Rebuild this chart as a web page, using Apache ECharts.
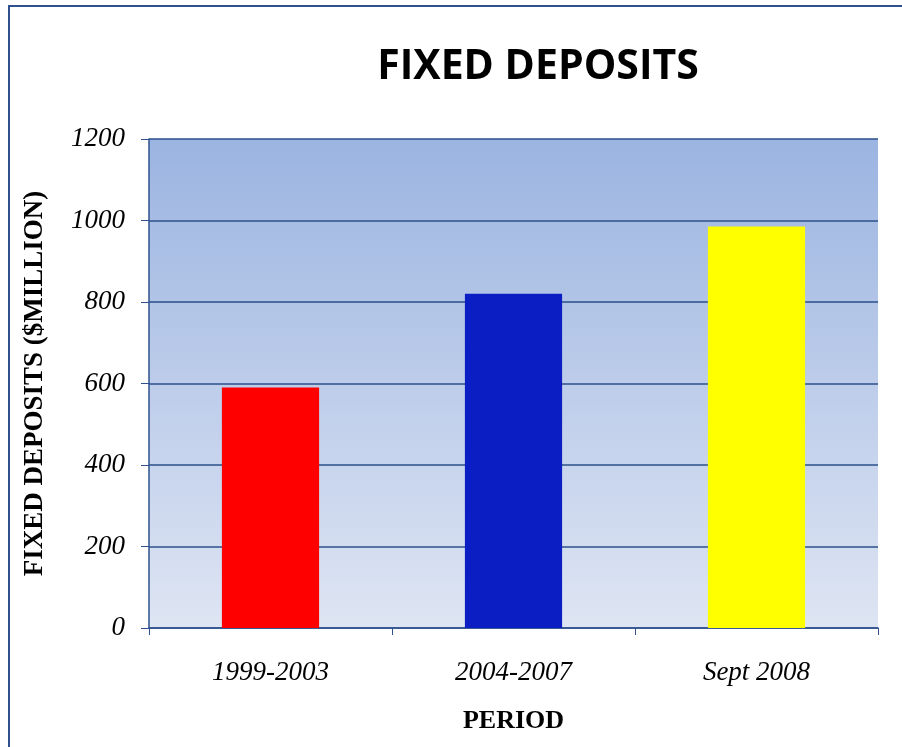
<!DOCTYPE html>
<html>
<head>
<meta charset="utf-8">
<script src="https://cdn.jsdelivr.net/npm/echarts@6/dist/echarts.min.js"></script>
<style>
  html, body { margin: 0; padding: 0; background: #fff; }
  #main { width: 902px; height: 747px; }
</style>
</head>
<body>
<div id="main"></div>
<script>
var categories = ["1999-2003", "2004-2007", "Sept 2008"];
var values = [590, 820, 985];
var barColors = ["#FF0000", "#0A1EC4", "#FFFF00"];
var yTicks = [0, 200, 400, 600, 800, 1000, 1200];

var myChart = echarts.init(document.getElementById("main"));

var option = {
  backgroundColor: "#fff",
  animation: false,
  title: {
    text: "FIXED DEPOSITS",
    left: 533,
    top: 42,
    textAlign: "center",
    textStyle: {
      fontFamily: "Open Sans",
      fontSize: 41,
      fontWeight: "bold",
      color: "#000"
    }
  },
  graphic: [
    {
      // 外框
      type: "rect",
      shape: { x: 9, y: 6, width: 1000, height: 1000 },
      style: { fill: "none", stroke: "#2F528F", lineWidth: 2 },
      silent: true
    }
  ],
  grid: {
    left: 149,
    right: 24,
    top: 139,
    bottom: 119,
    outerBoundsMode: "none",
    show: true,
    borderWidth: 0,
    backgroundColor: new echarts.graphic.LinearGradient(0, 0, 0, 1, [
      { offset: 0, color: "#9BB4E1" },
      { offset: 1, color: "#DEE5F3" }
    ])
  },
  xAxis: {
    type: "category",
    data: categories,
    name: "PERIOD",
    nameLocation: "middle",
    nameGap: 80,
    nameTextStyle: {
      fontFamily: "Liberation Serif",
      fontSize: 26,
      fontWeight: "bold",
      color: "#000"
    },
    axisLine: { lineStyle: { color: "#2F528F", width: 1.5 } },
    axisTick: { show: true, length: 7, alignWithLabel: false, lineStyle: { color: "#2F528F" } },
    axisLabel: {
      margin: 31,
      fontFamily: "Liberation Serif",
      fontStyle: "italic",
      fontSize: 27,
      color: "#000"
    }
  },
  yAxis: {
    type: "value",
    min: yTicks[0],
    max: yTicks[yTicks.length - 1],
    interval: 200,
    name: "FIXED DEPOSITS ($MILLION)",
    nameLocation: "middle",
    nameGap: 100,
    nameRotate: 90,
    nameTextStyle: {
      fontFamily: "Liberation Serif",
      fontSize: 27,
      fontWeight: "bold",
      color: "#000"
    },
    axisLine: { show: true, lineStyle: { color: "#2F528F", width: 1.5 } },
    axisTick: { show: true, length: 8, inside: false, lineStyle: { color: "#2F528F" } },
    axisLabel: {
      margin: 24,
      fontFamily: "Liberation Serif",
      fontStyle: "italic",
      fontSize: 27,
      color: "#000",
      formatter: function (v) { return String(v); }
    },
    splitLine: { show: true, lineStyle: { color: "#2B4F8A", width: 1.5 } }
  },
  series: [
    {
      type: "bar",
      data: values.map(function (v, i) {
        return { value: v, itemStyle: { color: barColors[i] } };
      }),
      barWidth: "40%"
    }
  ]
};

myChart.setOption(option);
</script>
</body>
</html>
